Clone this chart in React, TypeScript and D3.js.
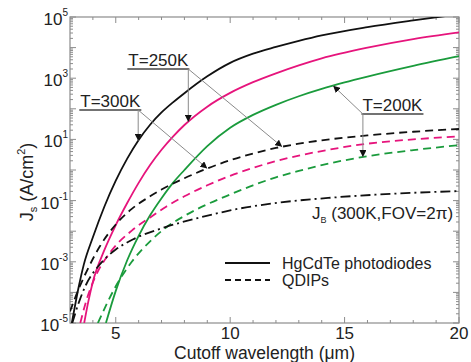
import React, { useEffect, useRef } from 'react';
import * as d3 from 'd3';

// [cutoff wavelength (um), log10 Js (A/cm2)]
type Pt = [number, number];

// HgCdTe photodiodes
const hg300: Pt[] = [[3.08, -5.0], [3.4, -3.75], [3.6, -3.1], [4.0, -2.2], [4.5, -1.2], [5.0, -0.35], [5.5, 0.37], [6.0, 0.98], [6.5, 1.48], [7.0, 1.88], [7.5, 2.21], [8.0, 2.51], [9.0, 3.06], [10.0, 3.5], [11.0, 3.8], [12.0, 4.02], [13.0, 4.22], [14.0, 4.4], [16.0, 4.67], [18.0, 4.89], [20.0, 5.09]];
const hg250: Pt[] = [[3.62, -5.0], [3.8, -4.3], [4.0, -3.65], [4.5, -2.62], [5.0, -1.8], [5.5, -1.08], [6.0, -0.42], [6.5, 0.16], [7.0, 0.66], [7.5, 1.09], [8.0, 1.47], [9.0, 2.07], [10.0, 2.52], [11.0, 2.87], [12.0, 3.16], [13.0, 3.42], [14.0, 3.65], [16.0, 4.0], [18.0, 4.28], [20.0, 4.5]];
const hg200: Pt[] = [[4.57, -5.0], [5.0, -3.95], [5.5, -2.95], [6.0, -2.15], [6.5, -1.48], [7.0, -0.92], [7.5, -0.42], [8.0, 0.0], [9.0, 0.78], [10.0, 1.38], [11.0, 1.8], [12.0, 2.13], [13.0, 2.41], [14.0, 2.65], [15.0, 2.86], [16.0, 3.05], [18.0, 3.4], [20.0, 3.72]];

// QDIPs
const q300: Pt[] = [[3.0, -4.62], [3.4, -3.85], [3.8, -3.2], [4.3, -2.5], [5.0, -1.78], [5.7, -1.27], [6.5, -0.86], [7.0, -0.64], [8.0, -0.27], [9.0, 0.05], [10.0, 0.32], [11.0, 0.54], [12.0, 0.72], [13.0, 0.86], [14.0, 0.97], [16.0, 1.13], [18.0, 1.25], [20.0, 1.34]];
const q250: Pt[] = [[3.45, -5.0], [3.7, -4.3], [4.1, -3.5], [4.8, -2.65], [5.7, -1.98], [6.5, -1.55], [7.2, -1.2], [8.0, -0.86], [9.0, -0.5], [10.0, -0.19], [11.0, 0.07], [12.0, 0.29], [13.0, 0.47], [14.0, 0.62], [16.0, 0.86], [18.0, 1.0], [20.0, 1.1]];
const q200: Pt[] = [[4.22, -5.0], [5.0, -3.8], [5.7, -3.0], [6.5, -2.33], [7.2, -1.88], [8.0, -1.5], [9.0, -1.12], [10.0, -0.8], [11.0, -0.5], [12.0, -0.24], [13.0, -0.03], [14.0, 0.16], [16.0, 0.45], [18.0, 0.65], [20.0, 0.81]];

// background limited current density J_B (300K, FOV=2pi)
const jb: Pt[] = [[3.1, -5.0], [3.4, -4.3], [3.7, -3.75], [4.2, -3.18], [4.6, -2.85], [5.0, -2.6], [5.8, -2.25], [7.2, -1.86], [8.7, -1.55], [10.0, -1.32], [12.2, -1.06], [14.5, -0.9], [17.0, -0.78], [20.0, -0.69]];

const xMajor = [5, 10, 15, 20];
const yLabelExps = [5, 3, 1, -1, -3, -5];

const BLACK = '#111';
const MAGENTA = '#e6147c';
const GREEN = '#1a9b3c';

const series = [
    { data: hg300, color: BLACK, dash: null },
    { data: hg250, color: MAGENTA, dash: null },
    { data: hg200, color: GREEN, dash: null },
    { data: q300, color: BLACK, dash: '8,5' },
    { data: q250, color: MAGENTA, dash: '8,5' },
    { data: q200, color: GREEN, dash: '8,5' },
    { data: jb, color: BLACK, dash: '10,4,2,4' },
];

// value of a curve at a given wavelength (linear between read points)
const at = (data: Pt[], l: number) => {
    for (let i = 1; i < data.length; i++) {
        if (l <= data[i][0]) {
            const [x0, y0] = data[i - 1];
            const [x1, y1] = data[i];
            return y0 + ((l - x0) / (x1 - x0)) * (y1 - y0);
        }
    }
    return data[data.length - 1][1];
};

const FONT = '"Liberation Sans", Arial, Helvetica, sans-serif';

const Chart: React.FC = () => {
    const svgRef = useRef<SVGSVGElement | null>(null);
    const width = 471;
    const height = 362;

    useEffect(() => {
        const svg = d3.select(svgRef.current);
        svg.selectAll('*').remove();
        const margin = { top: 17, right: 12, bottom: 39, left: 70 };
        const x0 = margin.left;
        const x1 = width - margin.right;
        const y0 = height - margin.bottom;
        const y1 = margin.top;

        const xScale = d3.scaleLinear().domain([3, 20]).range([x0, x1]);
        const yScale = d3.scaleLog().domain([1e-5, 1e5]).range([y0, y1]);
        const X = (l: number) => xScale(l);
        const Y = (e: number) => yScale(Math.pow(10, e));

        svg.attr('width', width).attr('height', height).style('font-family', FONT);

        const defs = svg.append('defs');
        defs.append('clipPath').attr('id', 'plotClip')
            .append('rect').attr('x', x0).attr('y', y1).attr('width', x1 - x0).attr('height', y0 - y1);
        defs.append('marker')
            .attr('id', 'arrowHead')
            .attr('viewBox', '0 0 10 10')
            .attr('refX', 10).attr('refY', 5)
            .attr('markerWidth', 7).attr('markerHeight', 7)
            .attr('markerUnits', 'userSpaceOnUse')
            .attr('orient', 'auto')
            .append('path').attr('d', 'M0,0 L10,5 L0,10 Z').attr('fill', '#111');

        // frame
        const axisColor = '#8c8c8c';
        svg.append('rect')
            .attr('x', x0).attr('y', y1).attr('width', x1 - x0).attr('height', y0 - y1)
            .attr('fill', 'none').attr('stroke', axisColor).attr('stroke-width', 1.2);

        const ticks = svg.append('g').attr('stroke', axisColor).attr('stroke-width', 1);
        // x ticks every micron, inward on bottom and top
        d3.range(4, 21).forEach((l) => {
            const len = xMajor.includes(l) ? 6 : 3;
            const px = X(l);
            ticks.append('line').attr('x1', px).attr('x2', px).attr('y1', y0).attr('y2', y0 - len);
            ticks.append('line').attr('x1', px).attr('x2', px).attr('y1', y1).attr('y2', y1 + len);
        });
        // y ticks: decades and log minor ticks, inward on left and right
        d3.range(-5, 6).forEach((e) => {
            d3.range(1, 10).forEach((m) => {
                const v = m * Math.pow(10, e);
                if (v > 1e5) return;
                const len = m === 1 ? 6 : 3;
                const py = yScale(v);
                ticks.append('line').attr('x1', x0).attr('x2', x0 + len).attr('y1', py).attr('y2', py);
                ticks.append('line').attr('x1', x1).attr('x2', x1 - len).attr('y1', py).attr('y2', py);
            });
        });

        // tick labels
        xMajor.forEach((l) => {
            svg.append('text')
                .attr('x', X(l)).attr('y', y0 + 16)
                .attr('text-anchor', 'middle').attr('font-size', 17).attr('fill', '#222')
                .text(String(l));
        });
        yLabelExps.forEach((e) => {
            const t = svg.append('text')
                .attr('x', x0 - 2).attr('y', Y(e) + 8)
                .attr('text-anchor', 'end').attr('font-size', 17).attr('fill', '#222');
            t.append('tspan').text('10');
            t.append('tspan').attr('dy', -9).attr('font-size', 10).text(String(e));
        });

        // axis titles
        svg.append('text')
            .attr('x', (x0 + x1) / 2).attr('y', 359)
            .attr('text-anchor', 'middle').attr('font-size', 17.5).attr('fill', '#222')
            .text('Cutoff wavelength (\u03bcm)');
        const yt = svg.append('text')
            .attr('transform', `translate(33, ${(y0 + y1) / 2 + 12}) rotate(-90)`)
            .attr('text-anchor', 'middle').attr('font-size', 18).attr('fill', '#222');
        yt.append('tspan').text('J');
        yt.append('tspan').attr('dy', 4).attr('font-size', 11).text('s');
        yt.append('tspan').attr('dy', -4).text(' (A/cm');
        yt.append('tspan').attr('dy', -8).attr('font-size', 11).text('2');
        yt.append('tspan').attr('dy', 8).text(')');

        // curves
        const line = d3.line<Pt>()
            .x((d) => X(d[0]))
            .y((d) => Y(d[1]))
            .curve(d3.curveMonotoneX);
        const plot = svg.append('g').attr('clip-path', 'url(#plotClip)');
        series.forEach((s) => {
            plot.append('path')
                .datum(s.data)
                .attr('d', line)
                .attr('fill', 'none')
                .attr('stroke', s.color)
                .attr('stroke-width', 1.8)
                .attr('stroke-dasharray', s.dash ?? null);
        });

        // temperature annotations: label, underline, leader arrows onto curves
        const notes = [
            { label: 'T=300K', lx: 3.45, ly: 1.96, ux: 5.98, targets: [{ data: hg300, l: 5.98 }, { data: q300, l: 9.0 }] },
            { label: 'T=250K', lx: 5.55, ly: 3.3, ux: 8.17, targets: [{ data: hg250, l: 8.17 }, { data: q300, l: 12.27 }] },
            { label: 'T=200K', lx: 15.78, ly: 1.83, ux: 15.8, targets: [{ data: hg200, l: 14.5 }, { data: q200, l: 15.8 }] },
        ];
        const ann = svg.append('g');
        notes.forEach((n) => {
            const tx = ann.append('text')
                .attr('x', X(n.lx)).attr('y', Y(n.ly) - 3)
                .attr('font-size', 17).attr('fill', '#222')
                .text(n.label);
            const tw = (tx.node() as SVGTextElement).getComputedTextLength();
            ann.append('line')
                .attr('x1', X(n.lx) - 1).attr('x2', X(n.lx) + tw + 1)
                .attr('y1', Y(n.ly)).attr('y2', Y(n.ly))
                .attr('stroke', '#444').attr('stroke-width', 1.6);
            n.targets.forEach((t) => {
                ann.append('line')
                    .attr('x1', X(n.ux)).attr('y1', Y(n.ly))
                    .attr('x2', X(t.l)).attr('y2', Y(at(t.data, t.l)))
                    .attr('stroke', '#8a8a8a').attr('stroke-width', 1)
                    .attr('marker-end', 'url(#arrowHead)');
            });
        });

        // J_B label
        const jl = svg.append('text')
            .attr('x', 312).attr('y', 219)
            .attr('font-size', 17).attr('fill', '#222');
        jl.append('tspan').text('J');
        jl.append('tspan').attr('dy', 4).attr('font-size', 9).text('B');
        jl.append('tspan').attr('dy', -4).text(' (300K,FOV=2\u03c0)');

        // legend
        const legend = svg.append('g');
        [
            { label: 'HgCdTe photodiodes', dash: null, y: 263 },
            { label: 'QDIPs', dash: '6,4', y: 280 },
        ].forEach((d) => {
            legend.append('line')
                .attr('x1', 225).attr('x2', 270).attr('y1', d.y).attr('y2', d.y)
                .attr('stroke', BLACK).attr('stroke-width', 1.8)
                .attr('stroke-dasharray', d.dash);
            legend.append('text')
                .attr('x', 282).attr('y', d.y + 5.5)
                .attr('font-size', 16).attr('fill', '#222')
                .text(d.label);
        });
    }, []);

    return <svg ref={svgRef} style={{ position: 'absolute', left: 0, top: 0, background: '#fff' }}></svg>;
};

export default function App() {
    return <Chart />;
}
